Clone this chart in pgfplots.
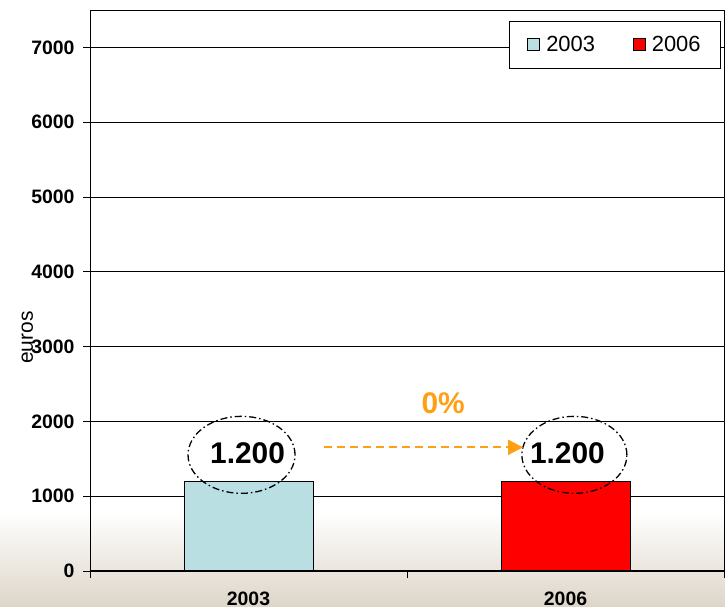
\documentclass[border=0pt]{standalone}
\usepackage{fontspec}
\setmainfont{Liberation Sans}
\usepackage{pgfplots}
\pgfplotsset{compat=1.18}
\usetikzlibrary{arrows.meta}
\definecolor{lblue}{RGB}{185,223,226}
\definecolor{beige}{RGB}{221,213,200}
\definecolor{orng}{RGB}{255,160,20}
\begin{document}
\begin{tikzpicture}[x=1bp,y=1bp]
\useasboundingbox (0,0) rectangle (725,607);
\clip (0,0) rectangle (725,607);
\fill[white] (0,0) rectangle (725,607);
\shade[top color=white,bottom color=beige] (0,0) rectangle (725,95);
\begin{axis}[
    at={(90bp,36bp)}, anchor=south west, scale only axis,
    width=634bp, height=561bp,
    xmin=0, xmax=2, ymin=0, ymax=7500,
    ybar, bar width=129bp,
    legend image code/.code={\draw[#1,line width=0.8bp] (0bp,-6bp) rectangle (12bp,6bp);},
    axis line style={line width=0.9bp},
    xtick={0,1,2}, xticklabels={2003,2006},
    x tick label as interval,
    xtick pos=bottom, ytick pos=left,
    tick align=outside, major tick length=7bp,
    tick style={line width=0.9bp, black},
    ytick={0,1000,...,7000},
    scaled y ticks=false,
    /pgf/number format/1000 sep={},
    /pgf/number format/assume math mode=true,
    tick label style={font=\fontsize{19.5}{22}\selectfont\bfseries},
    xticklabel style={yshift=-10bp},
    yticklabel style={xshift=-5bp},
    ymajorgrids, grid style={line width=0.9bp, black},
    ylabel={euros},
    ylabel style={at={(axis description cs:-0.099,0.416)}, anchor=center, font=\fontsize{21}{23}\selectfont},
    legend columns=2,
    legend style={at={(axis description cs:0.9953,0.9804)}, anchor=north east,
        draw=black, line width=0.9bp, fill=white,
        font=\fontsize{22}{24}\selectfont,
        inner xsep=18bp, inner ysep=13bp,
        /tikz/every odd column/.append style={column sep=4bp},
        /tikz/every even column/.append style={column sep=36bp}},
]
\addplot[fill=lblue, draw=black, line width=0.8bp, bar shift=0pt] coordinates {(0.5,1200)};
\addlegendentry{2003}
\addplot[fill=red, draw=black, line width=0.8bp, bar shift=0pt] coordinates {(1.5,1200)};
\addlegendentry{2006}

\draw[line width=2bp] (rel axis cs:0,1) -- (rel axis cs:0,0) -- (rel axis cs:1,0);

\draw[line width=1.3bp, dash pattern=on 7bp off 3bp on 1.5bp off 3bp]
    (axis cs:0.478,1553) ellipse [x radius=53.5bp, y radius=38.5bp];
\draw[line width=1.3bp, dash pattern=on 7bp off 3bp on 1.5bp off 3bp]
    (axis cs:1.528,1553) ellipse [x radius=52.5bp, y radius=38.5bp];
\node[font=\fontsize{30}{32}\selectfont\bfseries] at (axis cs:0.497,1580) {1.200};
\node[font=\fontsize{30}{32}\selectfont\bfseries] at (axis cs:1.506,1580) {1.200};
\draw[draw=orng, line width=2bp, dash pattern=on 8bp off 5bp, -{Triangle[length=15bp,width=15bp,fill=orng]}]
    (axis cs:0.738,1653) -- (axis cs:1.366,1653);
\node[text=orng, font=\fontsize{30}{32}\selectfont\bfseries] at (axis cs:1.114,2247) {0\%};
\end{axis}
\end{tikzpicture}
\end{document}
